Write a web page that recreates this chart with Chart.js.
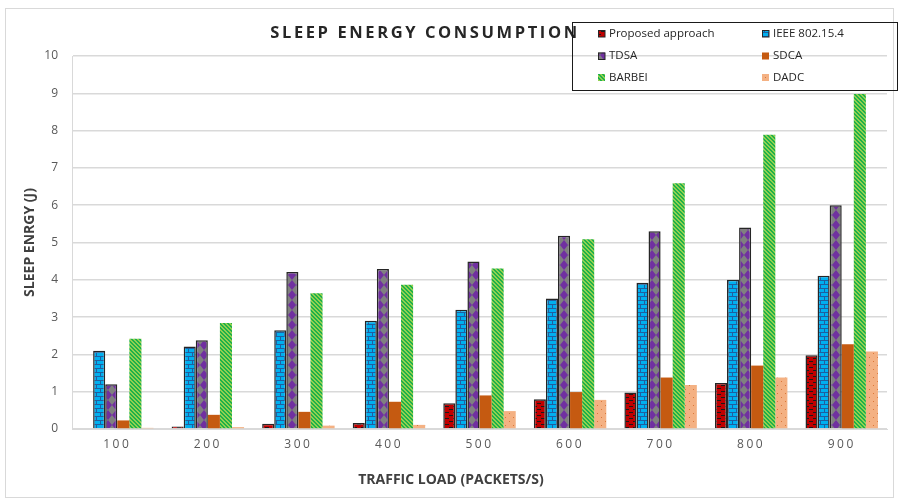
<!DOCTYPE html>
<html>
<head>
<meta charset="utf-8">
<script src="https://cdn.jsdelivr.net/npm/chart.js@4.4.1/dist/chart.umd.min.js"></script>
<style>
  html, body { margin: 0; padding: 0; background: #fff; }
  #wrap { width: 898px; height: 502px; }
</style>
</head>
<body>
<div id="wrap"><canvas id="chart" width="898" height="502"></canvas></div>
<script>
// data
const loads = ['100', '200', '300', '400', '500', '600', '700', '800', '900'];
const seriesNames = ['Proposed approach', 'IEEE 802.15.4', 'TDSA', 'SDCA', 'BARBEI', 'DADC'];
const proposed = [0.02, 0.07, 0.14, 0.16, 0.69, 0.80, 0.98, 1.23, 1.98];
const ieee = [2.10, 2.21, 2.65, 2.90, 3.20, 3.50, 3.92, 4.00, 4.11];
const tdsa = [1.20, 2.38, 4.21, 4.29, 4.49, 5.18, 5.30, 5.40, 6.00];
const sdca = [0.23, 0.38, 0.46, 0.73, 0.90, 0.99, 1.38, 1.70, 2.27];
const barbei = [2.42, 2.84, 3.64, 3.87, 4.30, 5.09, 6.59, 7.89, 8.98];
const dadc = [0.03, 0.05, 0.09, 0.11, 0.48, 0.78, 1.18, 1.38, 2.08];
const yTicks = [0, 1, 2, 3, 4, 5, 6, 7, 8, 9, 10];

const canvas = document.getElementById('chart');
const ctx = canvas.getContext('2d');

// small tile helper for the fill patterns
function makePattern(w, h, paint) {
  const c = document.createElement('canvas');
  c.width = w;
  c.height = h;
  paint(c.getContext('2d'), w, h);
  return ctx.createPattern(c, 'repeat');
}

const patProposed = makePattern(8, 6, (g, w, h) => {
  g.fillStyle = '#c00000';
  g.fillRect(0, 0, w, h);
  g.fillStyle = '#1a1a1a';
  g.fillRect(1, 1, 4, 1);
  g.fillRect(5, 4, 3, 1);
  g.fillRect(0, 4, 1, 1);
});
const patIeee = makePattern(8, 8, (g, w, h) => {
  g.fillStyle = '#00b0f0';
  g.fillRect(0, 0, w, h);
  g.fillStyle = '#1f5fa0';
  g.fillRect(0, 0, w, 1);
  g.fillRect(0, 4, w, 1);
  g.fillRect(0, 0, 1, 4);
  g.fillRect(4, 4, 1, 4);
});
const patTdsa = makePattern(8, 10, (g, w, h) => {
  g.fillStyle = '#808080';
  g.fillRect(0, 0, w, h);
  g.fillStyle = '#7030a0';
  g.beginPath();
  g.moveTo(4, 0);
  g.lineTo(8, 5);
  g.lineTo(4, 10);
  g.lineTo(0, 5);
  g.closePath();
  g.fill();
});
const patBarbei = makePattern(4, 4, (g, w, h) => {
  g.fillStyle = '#92d050';
  g.fillRect(0, 0, w, h);
  g.fillStyle = '#1fb14a';
  for (let y = 0; y < h; y++) {
    for (let x = 0; x < w; x++) {
      const d = ((x - y) % 4 + 4) % 4;
      if (d < 2) g.fillRect(x, y, 1, 1);
    }
  }
});
const patDadc = makePattern(8, 8, (g, w, h) => {
  g.fillStyle = '#f4b183';
  g.fillRect(0, 0, w, h);
  g.fillStyle = '#d9773a';
  g.fillRect(1, 1, 1, 1);
  g.fillRect(5, 5, 1, 1);
});

const seriesValues = [proposed, ieee, tdsa, sdca, barbei, dadc];
const seriesFills = [patProposed, patIeee, patTdsa, '#c55a11', patBarbei, patDadc];
const seriesBorders = [1.5, 1.5, 1.5, 0, 0, 0];

// border + titles + boxed legend, drawn around the plot
const decorations = {
  id: 'decorations',
  beforeDraw(chart) {
    const c = chart.ctx;
    c.save();
    c.fillStyle = '#fff';
    c.fillRect(0, 0, chart.width, chart.height);
    c.strokeStyle = '#d9d9d9';
    c.lineWidth = 1;
    c.strokeRect(5.5, 8.5, 888, 489);
    c.restore();
  },
  afterDatasetsDraw(chart) {
    // x tick labels are drawn after this (ticks z: 1) and look letter-spaced
    chart.ctx.letterSpacing = '2.5px';
  },
  afterDraw(chart) {
    const c = chart.ctx;
    c.letterSpacing = '0px';
    c.save();
    c.textBaseline = 'middle';
    c.textAlign = 'center';

    // x axis title sits left of the plot centre in the original
    c.fillStyle = '#404040';
    c.font = 'bold 14px "Open Sans"';
    c.fillText('TRAFFIC LOAD (PACKETS/S)', 451, 480);

    c.letterSpacing = '2.6px';
    c.fillStyle = '#262626';
    c.font = 'bold 16.5px "Open Sans"';
    c.fillText('SLEEP ENERGY CONSUMPTION', 425, 33);
    c.letterSpacing = '0px';

    c.strokeStyle = '#1a1a1a';
    c.lineWidth = 1;
    c.strokeRect(572.5, 22.5, 325, 68);

    c.font = '11.5px "Open Sans"';
    c.textAlign = 'left';
    chart.data.datasets.forEach((ds, i) => {
      const col = i % 2;
      const row = Math.floor(i / 2);
      const mx = col === 0 ? 598 : 762;
      const my = [33.5, 56, 77.5][row];
      c.fillStyle = ds.backgroundColor;
      c.fillRect(mx, my - 3.5, 7, 7);
      if (ds.borderWidth) {
        c.strokeStyle = '#262626';
        c.strokeRect(mx + 0.5, my - 3, 6.5, 6.5);
      }
      c.fillStyle = '#262626';
      c.fillText(ds.label, mx + 11, my);
    });
    c.restore();
  }
};

new Chart(canvas, {
  type: 'bar',
  data: {
    labels: loads,
    datasets: seriesNames.map((name, i) => ({
      label: name,
      data: seriesValues[i],
      backgroundColor: seriesFills[i],
      borderColor: '#262626',
      borderWidth: seriesBorders[i],
      borderSkipped: 'bottom',
      categoryPercentage: 0.8,
      barPercentage: 1.0,
    })),
  },
  options: {
    responsive: false,
    animation: false,
    layout: { padding: { left: 0, right: 11, top: 56, bottom: 0 } },
    plugins: {
      legend: { display: false },
      tooltip: { enabled: false },
    },
    scales: {
      x: {
        afterFit: (scale) => { scale.height = 73; },
        grid: { display: false, drawTicks: false },
        border: { color: '#d9d9d9', width: 1 },
        ticks: {
          z: 1,
          color: '#595959',
          padding: 8,
          font: { family: '"Open Sans"', size: 12 },
        },
      },
      y: {
        min: 0,
        max: 10,
        afterFit: (scale) => { scale.width = 72; },
        afterBuildTicks: (scale) => { scale.ticks = yTicks.map((v) => ({ value: v })); },
        grid: { color: '#d9d9d9', lineWidth: 1.5, drawTicks: false },
        border: { display: true, color: '#d9d9d9', width: 1 },
        ticks: {
          color: '#595959',
          padding: 14,
          font: { family: '"Open Sans"', size: 12 },
        },
        title: {
          display: true,
          text: 'SLEEP ENRGY (J)',
          color: '#404040',
          font: { family: '"Open Sans"', size: 14, weight: 'bold' },
          padding: { top: 22, bottom: 0 },
        },
      },
    },
  },
  plugins: [decorations],
});
</script>
</body>
</html>
